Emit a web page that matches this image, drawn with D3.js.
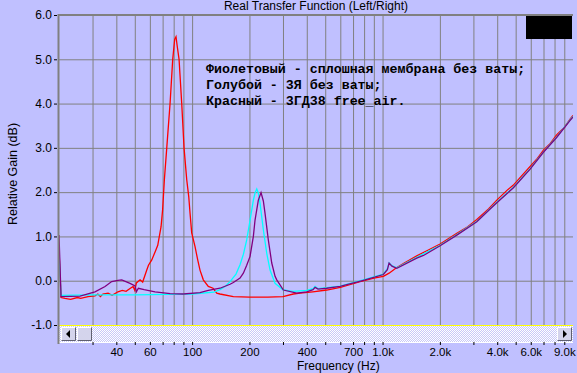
<!DOCTYPE html>
<html>
<head>
<meta charset="utf-8">
<script src="https://cdn.jsdelivr.net/npm/d3@7"></script>
<style>
  html, body { margin: 0; padding: 0; background: #c0c0ff; }
  svg { display: block; font-family: Arial, 'Liberation Sans', sans-serif; }
</style>
</head>
<body>
<script>
// Values
const gridFreqs = [30, 40, 50, 60, 70, 80, 90, 100, 200, 300, 400, 500, 600, 700, 800, 900,
  1000, 2000, 3000, 4000, 5000, 6000, 7000, 8000, 9000];
const labelFreqs = [40, 60, 100, 200, 400, 700, 1000, 2000, 4000, 6000, 9000];
const gainTicks = [-1, 0, 1, 2, 3, 4, 5, 6];

const purpleFreq = [20, 20.5, 25.8, 30.9, 34.9, 37.8, 40.8, 42.7, 47.2, 50.2, 51, 52.2, 56, 63.9,
  76.6, 90, 110, 121.6, 140.2, 158.2, 164.6, 178.5, 185.8, 193.5, 201.5, 209.7, 214, 222.7, 230.1,
  236.6, 241.5, 251.3, 261.9, 272.6, 278.3, 301.4, 354.4, 400, 431.6, 442.2, 458.5, 509, 598.5,
  793, 1010, 1060, 1082, 1120, 1188, 1512, 1639, 2005, 2454, 3125, 3670, 3980, 4865, 5955, 6994,
  8223, 9656, 10000];
const purpleGain = [1.03, -0.36, -0.35, -0.25, -0.13, -0.02, 0.01, 0.02, -0.06, -0.12, -0.25, -0.17,
  -0.2, -0.25, -0.29, -0.30, -0.27, -0.22, -0.17, -0.08, -0.04, 0.06, 0.17, 0.35, 0.55, 1.0, 1.37,
  1.82, 1.99, 1.8, 1.52, 0.92, 0.40, 0.1, 0.02, -0.21, -0.28, -0.25, -0.2, -0.15, -0.19, -0.17,
  -0.13, 0.01, 0.14, 0.25, 0.40, 0.33, 0.28, 0.51, 0.57, 0.79, 1.03, 1.33, 1.62, 1.76, 2.1, 2.52,
  2.9, 3.24, 3.62, 3.70];

const cyanFreq = [20, 20.5, 30, 50, 76, 100, 130, 140.2, 150, 158.2, 170, 178.5, 186, 193.5, 201.5,
  209.7, 214, 218.5, 222.7, 227.3, 236.6, 246.5, 256.6, 272.6, 301.4, 338.9, 400, 431.6, 442.2,
  458.5, 598.5, 793, 1010, 1060, 1082, 1120, 1188, 1512, 2005, 2454, 3125, 3980, 4865, 5955, 6994,
  8223, 9656, 10000];
const cyanGain = [0.63, -0.33, -0.32, -0.32, -0.31, -0.30, -0.26, -0.20, -0.12, -0.02, 0.15, 0.36,
  0.6, 0.92, 1.37, 1.82, 1.98, 2.07, 1.98, 1.75, 1.15, 0.62, 0.24, -0.06, -0.21, -0.24, -0.22,
  -0.18, -0.13, -0.18, -0.12, 0.02, 0.15, 0.27, 0.40, 0.34, 0.29, 0.53, 0.80, 1.04, 1.34, 1.77,
  2.11, 2.53, 2.91, 3.25, 3.63, 3.71];

const redFreq = [20, 20.5, 21.5, 23, 25, 26, 28.4, 30.9, 32, 33, 34, 36.2, 38, 40.8, 43, 45, 47, 49,
  50, 51, 53.3, 55, 57.8, 59, 61.4, 63.9, 66, 68.7, 70, 71.5, 73.6, 76.6, 79.1, 81, 82.3, 83.5,
  85.4, 88.2, 90.7, 93.7, 96, 97.5, 99.5, 103.6, 107, 110, 114.5, 121.6, 128.8, 134.7, 140, 164.6,
  200, 250, 300, 340, 369, 430, 509, 600, 761.8, 900, 1010, 1082, 1188, 1300, 1512, 1750, 2005,
  2454, 2800, 3125, 3600, 3980, 4500, 4865, 5300, 5955, 6500, 6994, 7600, 8223, 9000, 9656, 10000];
const redGain = [0.70, -0.38, -0.40, -0.42, -0.38, -0.40, -0.36, -0.34, -0.30, -0.36, -0.30, -0.28,
  -0.33, -0.25, -0.22, -0.24, -0.18, -0.13, -0.22, -0.05, 0.02, -0.03, 0.24, 0.35, 0.47, 0.65,
  0.80, 1.22, 1.6, 2.28, 3.0, 4.0, 5.0, 5.45, 5.51, 5.3, 5.0, 4.0, 3.0, 2.28, 1.9, 1.53, 1.08,
  0.77, 0.47, 0.24, 0.02, -0.13, -0.17, -0.28, -0.30, -0.36, -0.37, -0.37, -0.36, -0.30, -0.28,
  -0.25, -0.21, -0.15, -0.02, 0.06, 0.10, 0.17, 0.30, 0.40, 0.56, 0.70, 0.83, 1.07, 1.22, 1.38,
  1.62, 1.82, 2.04, 2.16, 2.34, 2.58, 2.76, 2.95, 3.10, 3.30, 3.46, 3.65, 3.73];

const notes = [
  'Фиолетовый - сплошная мембрана без ваты;',
  'Голубой - 3Я без ваты;',
  'Красный - 3ГД38 free_air.'
];

const series = [
  { freq: redFreq, gain: redGain, color: '#ff0000' },
  { freq: cyanFreq, gain: cyanGain, color: '#00ffff' },
  { freq: purpleFreq, gain: purpleGain, color: '#800080' }
];

// Canvas
const width = 577;
const height = 373;
const svg = d3.select('body').append('svg').attr('width', width).attr('height', height);
svg.append('rect').attr('width', width).attr('height', height).attr('fill', '#c0c0ff');

const plotLeft = 59, plotRight = 573, plotTop = 15, plotBottom = 325;
const x = d3.scaleLog().domain([20, 10000]).range([plotLeft, plotRight]);
const y = d3.scaleLinear().domain([-1, 6]).range([plotBottom, plotTop]);

const fmt = (d) => (d >= 1000 ? `${(d / 1000).toFixed(1)}k` : `${d}`);

// Grid
const gridX = svg.append('g').attr('transform', `translate(0,${plotBottom})`)
  .call(d3.axisBottom(x).tickValues(gridFreqs).tickSize(-(plotBottom - plotTop)).tickFormat(''));
gridX.select('.domain').remove();
gridX.selectAll('line').attr('stroke', '#808080');

const gridY = svg.append('g').attr('transform', `translate(${plotLeft},0)`)
  .call(d3.axisLeft(y).tickValues(gainTicks).tickSize(-(plotRight - plotLeft)).tickFormat(''));
gridY.select('.domain').remove();
gridY.selectAll('line').attr('stroke', '#808080');

// top border
svg.append('line').attr('x1', plotLeft).attr('x2', plotRight).attr('y1', plotTop).attr('y2', plotTop)
  .attr('stroke', '#808080').attr('stroke-width', 2);

// Curves
svg.append('clipPath').attr('id', 'plot').append('rect')
  .attr('x', plotLeft).attr('y', plotTop)
  .attr('width', plotRight - plotLeft).attr('height', plotBottom - plotTop);

const line = d3.line().x((d) => x(d[0])).y((d) => y(d[1]));
svg.append('g').attr('clip-path', 'url(#plot)')
  .selectAll('path')
  .data(series)
  .enter()
  .append('path')
  .attr('d', (s) => line(d3.zip(s.freq, s.gain)))
  .attr('fill', 'none')
  .attr('stroke', (s) => s.color)
  .attr('stroke-width', 1.3);

// Scrollbar
const pat = svg.append('defs').append('pattern').attr('id', 'hatch')
  .attr('width', 2).attr('height', 2).attr('patternUnits', 'userSpaceOnUse');
pat.append('rect').attr('width', 2).attr('height', 2).attr('fill', '#c8c8f8');
pat.append('rect').attr('width', 1).attr('height', 1).attr('fill', '#ffffff');
pat.append('rect').attr('x', 1).attr('y', 1).attr('width', 1).attr('height', 1).attr('fill', '#ffffff');

svg.append('rect').attr('x', plotLeft).attr('y', plotBottom)
  .attr('width', plotRight - plotLeft).attr('height', 17)
  .attr('fill', 'url(#hatch)');
svg.append('line').attr('x1', plotLeft).attr('x2', plotRight)
  .attr('y1', plotBottom + 0.5).attr('y2', plotBottom + 0.5)
  .attr('stroke', '#ffff00');

const button = (bx, w) => {
  const g = svg.append('g').attr('transform', `translate(${bx},327)`);
  g.append('rect').attr('width', w).attr('height', 14).attr('fill', '#d4d4ec');
  g.append('path').attr('d', `M0.5,13.5V0.5H${w - 0.5}`).attr('fill', 'none').attr('stroke', '#ffffff');
  g.append('path').attr('d', `M0.5,13.5H${w - 0.5}V0.5`).attr('fill', 'none').attr('stroke', '#606070');
  return g;
};
button(61, 15).append('path').attr('d', 'M5,7L9,3V11Z').attr('fill', '#000');
button(77, 15);
button(557, 15).append('path').attr('d', 'M10,7L6,3V11Z').attr('fill', '#000');

// X axis with labels
const xAxis = svg.append('g').attr('transform', 'translate(0,342)')
  .call(d3.axisBottom(x).tickValues(gridFreqs).tickSize(3).tickPadding(3)
    .tickFormat((d) => (labelFreqs.includes(d) ? fmt(d) : '')));
xAxis.select('.domain').attr('stroke', '#ffffff').attr('d', `M${plotLeft},0.5H${plotRight}`);
xAxis.selectAll('line').attr('stroke', '#000');
xAxis.selectAll('text').attr('fill', '#000').style('font-size', '11.5px')
  .style('font-family', 'Arial, "Liberation Sans", sans-serif');

// Y axis with labels
const yAxis = svg.append('g').attr('transform', 'translate(57,0)')
  .call(d3.axisLeft(y).tickValues(gainTicks).tickSize(3).tickPadding(2)
    .tickFormat((d) => d.toFixed(1)));
yAxis.select('.domain').remove();
yAxis.selectAll('line').attr('stroke', '#000');
yAxis.selectAll('text').attr('fill', '#000').style('font-size', '12px')
  .style('font-family', 'Arial, "Liberation Sans", sans-serif');

// left axis bar
svg.append('line').attr('x1', 58.5).attr('x2', 58.5).attr('y1', plotTop - 1).attr('y2', 344)
  .attr('stroke', '#808080').attr('stroke-width', 2);

// Black box in the corner
svg.append('rect').attr('x', 526).attr('y', 16).attr('width', 46).attr('height', 23).attr('fill', '#000');

// Titles
svg.append('text').attr('x', 316).attr('y', 10).attr('text-anchor', 'middle')
  .style('font-size', '12px').text('Real Transfer Function (Left/Right)');
svg.append('text').attr('x', 297).attr('y', 369.5)
  .style('font-size', '12px').text('Frequency (Hz)');
svg.append('text').attr('transform', 'translate(17,174) rotate(-90)').attr('text-anchor', 'middle')
  .style('font-size', '12.5px').text('Relative Gain (dB)');

// Annotation
svg.append('g')
  .selectAll('text')
  .data(notes)
  .enter()
  .append('text')
  .attr('x', 206)
  .attr('y', (d, i) => 73 + i * 16)
  .style('font-family', '"Liberation Mono", "DejaVu Sans Mono", monospace')
  .style('font-weight', 'bold')
  .style('font-size', '13.3px')
  .text((d) => d);
</script>
</body>
</html>
